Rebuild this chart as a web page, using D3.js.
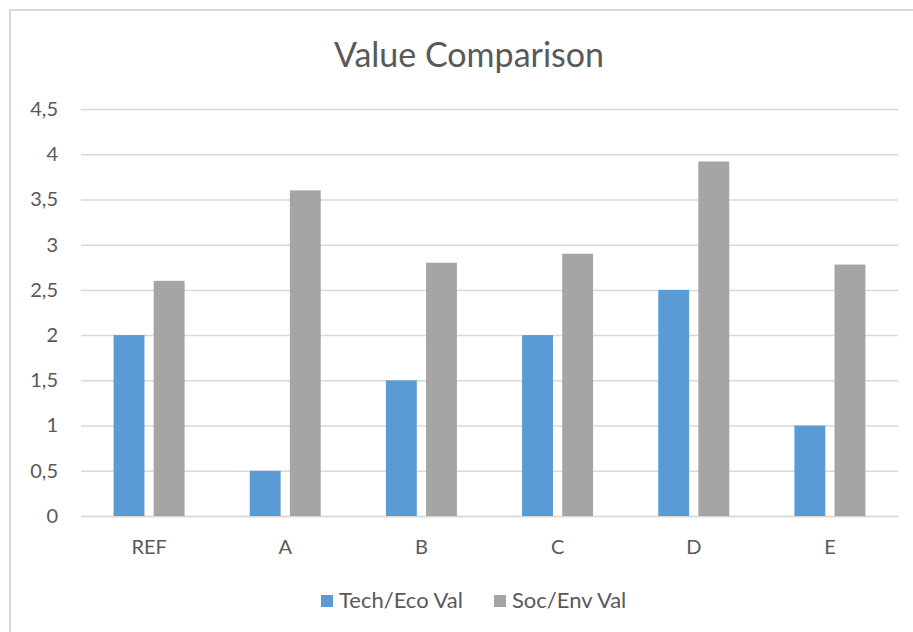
<html>
<head>
<script src="https://cdn.jsdelivr.net/npm/d3@7"></script>
<style>
  body { margin: 0; background: #fff; }
  text { font-family: Lato, "Open Sans", sans-serif; fill: #595959; }
</style>
</head>
<body>
<script>
// chart data
var categories = ["REF", "A", "B", "C", "D", "E"];
var seriesNames = ["Tech/Eco Val", "Soc/Env Val"];
var techEco = [2, 0.5, 1.5, 2, 2.5, 1];
var socEnv = [2.6, 3.6, 2.8, 2.9, 3.92, 2.78];
var yTicks = [0, 0.5, 1, 1.5, 2, 2.5, 3, 3.5, 4, 4.5];
var colors = ["#5B9BD5", "#A5A5A5"];

var w = 913, h = 632;
var plotLeft = 81, plotRight = 898, plotTop = 109, plotBottom = 516;

var svg = d3.select("body").append("svg")
    .attr("width", w)
    .attr("height", h);

/* outer chart border */
svg.append("rect")
    .attr("x", 10).attr("y", 10)
    .attr("width", w).attr("height", h)
    .style("fill", "none")
    .style("stroke", "#D9D9D9")
    .style("stroke-width", 2);

var x0 = d3.scaleBand().domain(categories).range([plotLeft, plotRight]);
var x1 = d3.scaleBand().domain(seriesNames).range([-35.5, 35.5]).paddingInner(0.23);
var y = d3.scaleLinear().domain([0, 4.5]).range([plotBottom, plotTop]);

var fmt = function(d) { return String(d).replace(".", ","); };

/* gridlines and y labels */
var yAxis = svg.append("g")
    .attr("transform", "translate(" + plotLeft + ",0)")
    .call(d3.axisLeft(y).tickValues(yTicks).tickSize(-(plotRight - plotLeft)).tickFormat(fmt).tickPadding(23));
yAxis.select(".domain").remove();
yAxis.selectAll(".tick line").style("stroke", "#D9D9D9").style("stroke-width", 1.5);
yAxis.selectAll(".tick text").style("font-size", "20px").style("fill", "#595959");

/* category axis */
var xAxis = svg.append("g")
    .attr("transform", "translate(0," + plotBottom + ")")
    .call(d3.axisBottom(x0).tickSize(0).tickPadding(24));
xAxis.select(".domain").style("stroke", "#D9D9D9").style("stroke-width", 1.5);
xAxis.selectAll(".tick text").style("font-size", "20px").style("fill", "#595959");

/* bars */
var rows = categories.map(function(c, i) {
    return { cat: c, vals: [techEco[i], socEnv[i]] };
});

var groups = svg.selectAll(".grp")
    .data(rows)
    .enter()
    .append("g")
    .attr("transform", function(d) { return "translate(" + (x0(d.cat) + x0.bandwidth() / 2) + ",0)"; });

groups.selectAll("rect")
    .data(function(d) { return d.vals.map(function(v, j) { return { s: seriesNames[j], v: v, j: j }; }); })
    .enter()
    .append("rect")
    .attr("x", function(d) { return x1(d.s); })
    .attr("width", x1.bandwidth())
    .attr("y", function(d) { return y(d.v); })
    .attr("height", function(d) { return plotBottom - y(d.v); })
    .style("fill", function(d) { return colors[d.j]; });

/* title */
svg.append("text")
    .attr("x", 469).attr("y", 67)
    .attr("text-anchor", "middle")
    .style("font-size", "34px")
    .text("Value Comparison");

/* legend */
var legendX = [321, 494];
var legend = svg.selectAll(".leg")
    .data(seriesNames)
    .enter()
    .append("g")
    .attr("transform", function(d, i) { return "translate(" + legendX[i] + ",595)"; });
legend.append("rect")
    .attr("width", 12).attr("height", 12)
    .style("fill", function(d, i) { return colors[i]; });
legend.append("text")
    .attr("x", 18).attr("y", 13)
    .style("font-size", "22px")
    .text(function(d) { return d; });
</script>
</body>
</html>
